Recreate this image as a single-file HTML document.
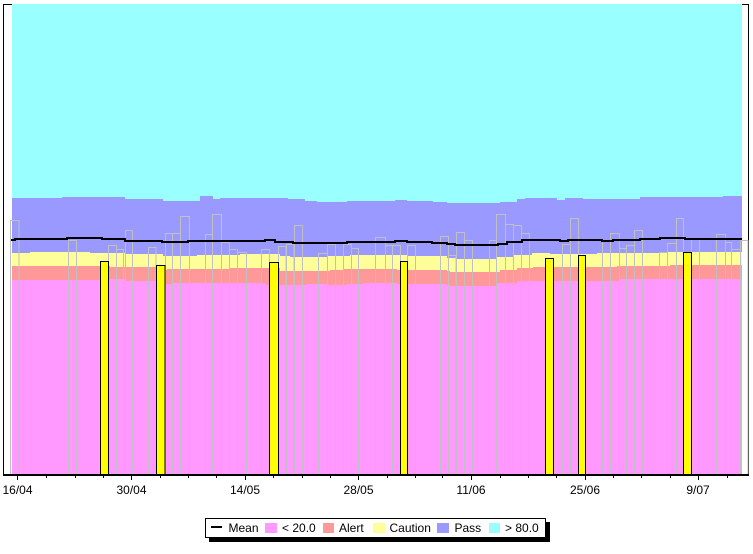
<!DOCTYPE html>
<html>
<head>
<meta charset="utf-8">
<style>
html,body{margin:0;padding:0;background:#fff;}
svg{display:block;}
text{font-family:"Liberation Sans",Arial,sans-serif;font-size:12px;fill:#000;}
</style>
</head>
<body>
<svg width="753" height="554" viewBox="0 0 753 554" xmlns="http://www.w3.org/2000/svg">
<rect x="0" y="0" width="753" height="554" fill="#fff"/>
<path d="M3.5 4V476M3 4.5H749M748.5 4V476" stroke="#000" stroke-width="1" fill="none" shape-rendering="crispEdges"/>
<g shape-rendering="crispEdges">
<rect x="12" y="4" width="730" height="470" fill="#99ffff"/>
<path fill="#9999ff" d="M12,474 V198 H62 V197 H125 V199 H163 V201 H200 V196 H213 V199 H220 V198 H288 V199 H305 V201 H317 V202 H347 V201 H395 V200 H407 V201 H433 V202 H447 V203 H500 V202 H517 V199 H525 V198 H557 V200 H565 V198 H583 V199 H640 V197 H723 V196 H742 V474 Z"/>
<path fill="#ffff99" d="M12,474 V253 H30 V252 H90 V253 H125 V254 H163 V256 H197 V255 H240 V254 H280 V256 H290 V257 H327 V256 H350 V255 H407 V256 H447 V258 H457 V259 H497 V257 H513 V255 H532 V253 H550 V254 H597 V253 H660 V252 H742 V474 Z"/>
<path fill="#ff9999" d="M12,474 V266 H110 V267 H163 V270 H167 V269 H230 V268 H280 V271 H330 V270 H343 V269 H397 V270 H447 V271 H450 V272 H500 V270 H517 V268 H533 V267 H617 V266 H670 V265 H742 V474 Z"/>
<path fill="#ff99ff" d="M12,474 V280 H110 V279 H125 V281 H163 V284 H173 V283 H240 V283 H265 V285 H307 V284 H327 V285 H347 V284 H363 V283 H397 V284 H447 V285 H450 V286 H497 V283 H517 V281 H620 V279 H742 V474 Z"/>
</g>
<path fill="none" stroke="#c0c0c0" stroke-width="1" shape-rendering="crispEdges" d="M10.5 474V220.5H19V474 M68.5 474V240.5H76.5V474 M108.5 474V245.5H116.5V474 M116.5 474V249.5H123.5V474 M125.5 474V230.5H132.5V474 M148.5 474V247.5H156V474 M165.5 474V233.5H172.5V474 M172.5 474V233.5H180.5V474 M180.5 474V216.5H189.5V474 M205.5 474V234.5H212.5V474 M212.5 474V214.5H221.5V474 M221.5 474V242.5H229.5V474 M229.5 474V249.5H237.5V474 M237.5 474V252.5H246.5V474 M261.5 474V249.5H269.5V474 M278.5 474V246.5H286V474 M286.5 474V244.5H294V474 M294.5 474V225.5H302.5V474 M318.5 474V253.5H327.5V474 M327.5 474V244.5H335.5V474 M335.5 474V243.5H343.5V474 M343.5 474V244.5H351.5V474 M351.5 474V248.5H358.5V474 M375.5 474V237.5H385.5V474 M385.5 474V245.5H392.5V474 M392.5 474V245.5H400.5V474 M407.5 474V245.5H415.5V474 M440.5 474V236.5H448.5V474 M448.5 474V255.5H456V474 M456.5 474V232.5H464.5V474 M464.5 474V240.5H472.5V474 M489.5 474V240.5H496.5V474 M496.5 474V214.5H505.5V474 M505.5 474V224.5H513.5V474 M513.5 474V225.5H521.5V474 M521.5 474V233.5H529.5V474 M562.5 474V244.5H570.5V474 M570.5 474V218.5H578.5V474 M602.5 474V241.5H610.5V474 M610.5 474V233.5H619.5V474 M619.5 474V248.5H626.5V474 M626.5 474V245.5H634.5V474 M634.5 474V230.5H642.5V474 M659.5 474V252.5H667.5V474 M667.5 474V243.5H676.5V474 M676.5 474V218.5H683.5V474 M691.5 474V238.5H699.5V474 M716.5 474V234.5H725.5V474 M725.5 474V242.5H731.5V474 M731.5 474V249.5H740.5V474 M740.5 474V240.5H748V474"/>
<path fill="#ffff00" stroke="#000" stroke-width="1" shape-rendering="crispEdges" d="M100.5 474.5V261.5H108.5V474.5Z M156.5 474.5V265.5H165V474.5Z M269.5 474.5V262.5H278.5V474.5Z M400.5 474.5V261.5H407.5V474.5Z M545.5 474.5V258.5H553.5V474.5Z M578.5 474.5V255.5H585.5V474.5Z M683.5 474.5V252.5H691.5V474.5Z"/>
<path fill="none" stroke="#000" stroke-width="2" shape-rendering="crispEdges" d="M11,240 H15 V239 H67 V238 H102 V239 H125 V241 H162 V242 H188 V241 H265 V240 H275 V242 H293 V243 H347 V242 H395 V241 H407 V242 H432 V243 H447 V244 H455 V245 H498 V244 H507 V242 H522 V240 H560 V241 H568 V240 H602 V241 H613 V240 H640 V239 H660 V238 H685 V239 H742"/>
<rect x="3" y="474" width="746" height="2" fill="#000"/>
<path fill="none" stroke="#000" stroke-width="1" shape-rendering="crispEdges" d="M17.5 476V480M131.5 476V480M245.5 476V480M358.5 476V480M471.5 476V480M585.5 476V480M698.5 476V480"/>
<path fill="none" stroke="#000" stroke-width="1" shape-rendering="crispEdges" d="M46.5 476V478M75.5 476V478M103.5 476V478M160.5 476V478M188.5 476V478M216.5 476V478M273.5 476V478M302.5 476V478M330.5 476V478M387.5 476V478M415.5 476V478M442.5 476V478M500.5 476V478M528.5 476V478M556.5 476V478M613.5 476V478M641.5 476V478M670.5 476V478M727.5 476V478"/>
<g text-anchor="middle">
<text x="17.5" y="494">16/04</text>
<text x="131.5" y="494">30/04</text>
<text x="245" y="494">14/05</text>
<text x="358.5" y="494">28/05</text>
<text x="471" y="494">11/06</text>
<text x="585" y="494">25/06</text>
<text x="698" y="494">9/07</text>
</g>
<rect x="209" y="522" width="341" height="20" fill="#000"/>
<rect x="205.5" y="518.5" width="340" height="19" fill="#fff" stroke="#000" stroke-width="1"/>
<rect x="211" y="526" width="11" height="2" fill="#000"/>
<text x="228.5" y="532">Mean</text>
<rect x="265" y="523" width="12" height="10" fill="#ff99ff"/>
<text x="282" y="532">&lt; 20.0</text>
<rect x="323" y="523" width="11" height="10" fill="#ff9999"/>
<text x="339" y="532">Alert</text>
<rect x="373" y="523" width="12" height="10" fill="#ffff99"/>
<text x="389.5" y="532">Caution</text>
<rect x="437" y="523" width="12" height="10" fill="#9999ff"/>
<text x="454.5" y="532">Pass</text>
<rect x="489" y="523" width="11" height="10" fill="#99ffff"/>
<text x="505" y="532">&gt; 80.0</text>
</svg>
</body>
</html>
